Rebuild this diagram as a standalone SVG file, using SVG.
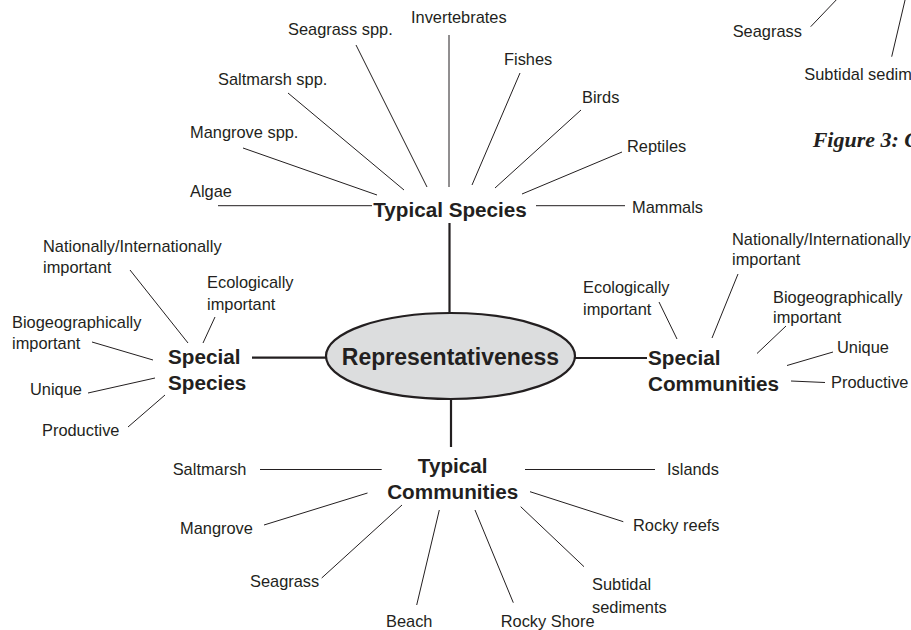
<svg xmlns="http://www.w3.org/2000/svg" width="911" height="630" viewBox="0 0 911 630">
<style>
text{font-family:"Liberation Sans",Arial,sans-serif;fill:#231f20}
.l{font-size:16.4px}
.h{font-size:20.7px;font-weight:bold}
.c{font-size:23px;font-weight:bold}
.fig{font-family:"Liberation Serif","Times New Roman",serif;font-size:22px;font-weight:bold;font-style:italic}
.s{stroke:#231f20;stroke-width:1;fill:none}
.m{stroke:#231f20;stroke-width:2.2;fill:none}
</style>
<rect width="911" height="630" fill="#ffffff"/>
<g id="connectors">
<line class="m" x1="449.5" y1="223" x2="449.5" y2="313"/>
<line class="m" x1="451" y1="398" x2="451" y2="447"/>
<line class="m" x1="252" y1="357.7" x2="326" y2="357.7"/>
<line class="m" x1="575" y1="358" x2="647" y2="358"/>
<line class="s" x1="356" y1="45" x2="427" y2="187"/>
<line class="s" x1="449" y1="35" x2="449" y2="187"/>
<line class="s" x1="288" y1="93" x2="404" y2="190"/>
<line class="s" x1="243" y1="148" x2="377" y2="195"/>
<line class="s" x1="218" y1="205.7" x2="372" y2="205.7"/>
<line class="s" x1="520" y1="73" x2="472" y2="185"/>
<line class="s" x1="581" y1="110" x2="495" y2="188"/>
<line class="s" x1="622" y1="152" x2="522" y2="194"/>
<line class="s" x1="536" y1="205.7" x2="625" y2="205.7"/>
<line class="s" x1="130" y1="270" x2="188" y2="343"/>
<line class="s" x1="215" y1="317" x2="203" y2="343"/>
<line class="s" x1="92" y1="342" x2="153" y2="360"/>
<line class="s" x1="88" y1="393" x2="155" y2="378"/>
<line class="s" x1="128" y1="427" x2="165" y2="395"/>
<line class="s" x1="659" y1="302" x2="677" y2="339"/>
<line class="s" x1="738" y1="274" x2="712" y2="338"/>
<line class="s" x1="786" y1="326" x2="757" y2="353.5"/>
<line class="s" x1="833" y1="352" x2="787" y2="365.5"/>
<line class="s" x1="825" y1="382.5" x2="791" y2="381"/>
<line class="s" x1="260" y1="469.5" x2="381.7" y2="469.5"/>
<line class="s" x1="525" y1="469.5" x2="655" y2="469.5"/>
<line class="s" x1="264" y1="525" x2="367.5" y2="493"/>
<line class="s" x1="321.7" y1="578" x2="402" y2="505"/>
<line class="s" x1="416.7" y1="605" x2="439.3" y2="510"/>
<line class="s" x1="513.3" y1="602.7" x2="475" y2="510"/>
<line class="s" x1="584" y1="566.7" x2="520.7" y2="506.7"/>
<line class="s" x1="623.3" y1="521.7" x2="530" y2="491.7"/>
<line class="s" x1="810.7" y1="26.7" x2="840" y2="-4"/>
<line class="s" x1="891.7" y1="56.7" x2="906" y2="-4"/>
</g>
<g id="representativeness">
<ellipse cx="450.5" cy="356" rx="124.5" ry="43" fill="#dcddde" stroke="#231f20" stroke-width="2.2"/>
<text class="c" x="450.5" y="365" text-anchor="middle">Representativeness</text>
</g>
<g id="typical-species"><text class="h" x="450" y="216.7" text-anchor="middle">Typical Species</text></g>
<g id="special-species"><text class="h" x="168" y="364">Special</text><text class="h" x="168" y="390">Species</text></g>
<g id="special-communities"><text class="h" x="648" y="365">Special</text><text class="h" x="648" y="391">Communities</text></g>
<g id="typical-communities"><text class="h" x="452.7" y="472.7" text-anchor="middle">Typical</text><text class="h" x="452.7" y="499" text-anchor="middle">Communities</text></g>
<g id="ts-seagrass"><text class="l" x="288" y="35">Seagrass spp.</text></g>
<g id="ts-invertebrates"><text class="l" x="411" y="23.3">Invertebrates</text></g>
<g id="ts-fishes"><text class="l" x="504" y="65">Fishes</text></g>
<g id="ts-saltmarsh"><text class="l" x="218" y="85">Saltmarsh spp.</text></g>
<g id="ts-birds"><text class="l" x="582" y="103.3">Birds</text></g>
<g id="ts-mangrove"><text class="l" x="190" y="138.3">Mangrove spp.</text></g>
<g id="ts-reptiles"><text class="l" x="627" y="151.7">Reptiles</text></g>
<g id="ts-algae"><text class="l" x="190" y="196.7">Algae</text></g>
<g id="ts-mammals"><text class="l" x="632" y="213.3">Mammals</text></g>
<g id="ss-national"><text class="l" x="43" y="251.5">Nationally/Internationally</text><text class="l" x="43" y="272.5">important</text></g>
<g id="ss-ecological"><text class="l" x="207" y="288.3">Ecologically</text><text class="l" x="207" y="309.5">important</text></g>
<g id="ss-biogeo"><text class="l" x="12" y="328">Biogeographically</text><text class="l" x="12" y="349">important</text></g>
<g id="ss-unique"><text class="l" x="30" y="395">Unique</text></g>
<g id="ss-productive"><text class="l" x="42" y="436">Productive</text></g>
<g id="sc-national"><text class="l" x="732" y="245">Nationally/Internationally</text><text class="l" x="732" y="265">important</text></g>
<g id="sc-ecological"><text class="l" x="583" y="293">Ecologically</text><text class="l" x="583" y="314.5">important</text></g>
<g id="sc-biogeo"><text class="l" x="773" y="303">Biogeographically</text><text class="l" x="773" y="323">important</text></g>
<g id="sc-unique"><text class="l" x="837" y="353">Unique</text></g>
<g id="sc-productive"><text class="l" x="831" y="387.5">Productive</text></g>
<g id="tc-saltmarsh"><text class="l" x="172.7" y="475">Saltmarsh</text></g>
<g id="tc-islands"><text class="l" x="667" y="475">Islands</text></g>
<g id="tc-mangrove"><text class="l" x="180" y="534">Mangrove</text></g>
<g id="tc-rockyreefs"><text class="l" x="633" y="531">Rocky reefs</text></g>
<g id="tc-seagrass"><text class="l" x="250" y="587">Seagrass</text></g>
<g id="tc-subtidal"><text class="l" x="592" y="590">Subtidal</text><text class="l" x="592" y="613">sediments</text></g>
<g id="tc-beach"><text class="l" x="386" y="627">Beach</text></g>
<g id="tc-rockyshore"><text class="l" x="500.7" y="627">Rocky Shore</text></g>
<g id="fragment-seagrass"><text class="l" x="732.7" y="36.7">Seagrass</text></g>
<g id="fragment-subtidal"><text class="l" x="804.3" y="80">Subtidal sediments</text></g>
<g id="figure-caption"><text class="fig" x="812.7" y="146.7">Figure 3: C</text></g>
</svg>
